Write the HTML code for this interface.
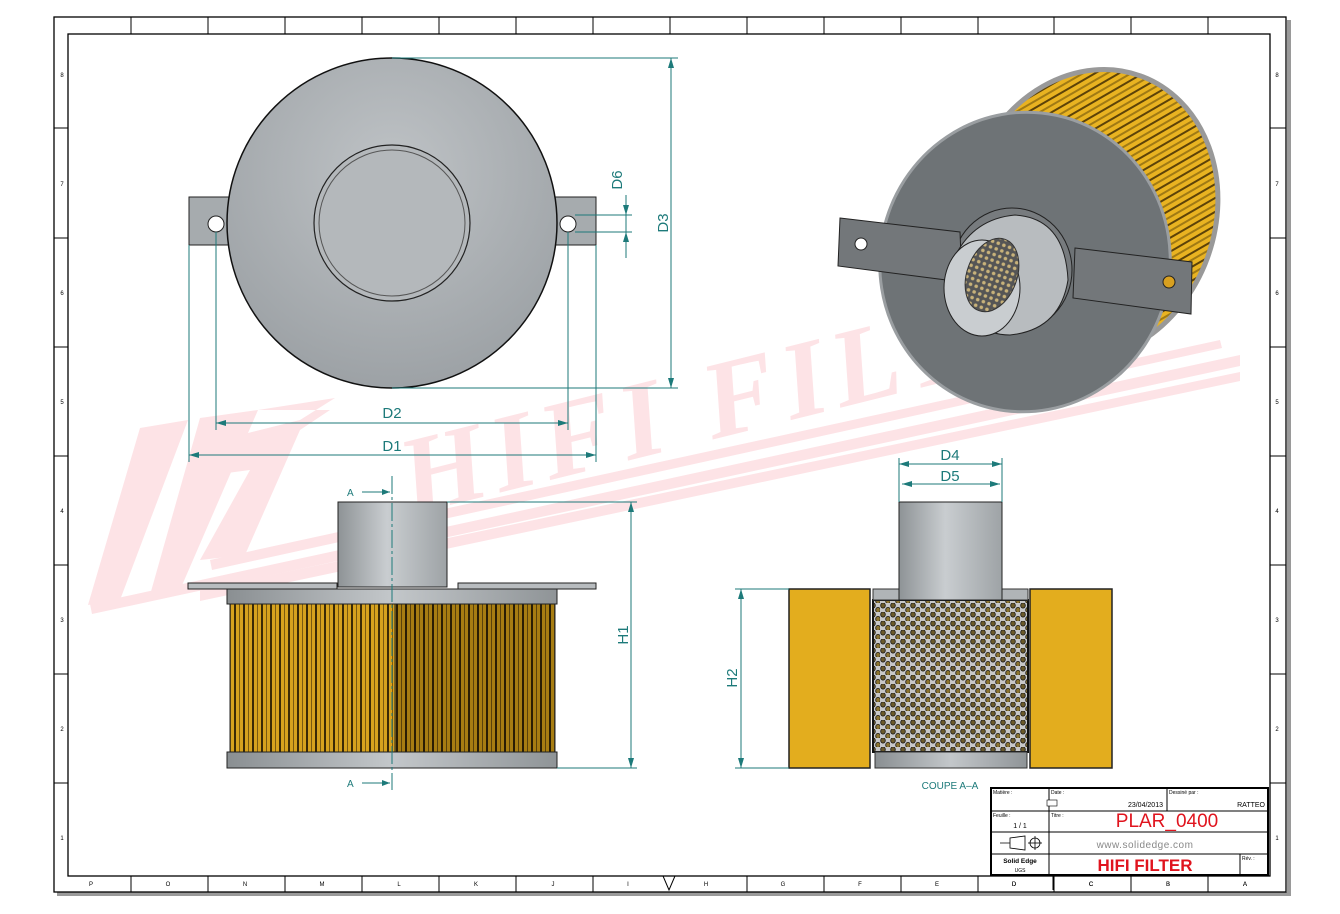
<!DOCTYPE html>
<html><head><meta charset="utf-8"><style>
html,body{margin:0;padding:0;background:#fff;}
svg{display:block;font-family:"Liberation Sans",sans-serif;}
</style></head><body>
<svg width="1340" height="914" viewBox="0 0 1340 914" xmlns="http://www.w3.org/2000/svg">
<defs>
<linearGradient id="tube" x1="0" x2="1">
<stop offset="0" stop-color="#8e9396"/><stop offset="0.45" stop-color="#c9cdd0"/><stop offset="1" stop-color="#9ea3a6"/></linearGradient>
<linearGradient id="cap" x1="0" x2="1">
<stop offset="0" stop-color="#8a8f92"/><stop offset="0.5" stop-color="#c3c7ca"/><stop offset="1" stop-color="#8f9497"/></linearGradient>
<radialGradient id="disc" cx="0.5" cy="0.35" r="0.7">
<stop offset="0" stop-color="#bfc3c6"/><stop offset="1" stop-color="#9a9fa3"/></radialGradient>
<pattern id="pleat" width="9" height="10" patternUnits="userSpaceOnUse">
<rect width="9" height="10" fill="#d6a21e"/><rect x="0" width="2" height="10" fill="#3a2a06"/><rect x="5" width="1" height="10" fill="#7a5a10"/></pattern>
<pattern id="pleat2" width="9" height="10" patternUnits="userSpaceOnUse">
<rect width="9" height="10" fill="#a77d12"/><rect x="0" width="2" height="10" fill="#2a1e04"/><rect x="5" width="1" height="10" fill="#5a420a"/></pattern>
<pattern id="perf" width="10" height="9" patternUnits="userSpaceOnUse">
<rect width="10" height="9" fill="#c8c8c8"/>
<ellipse cx="3" cy="2.5" rx="2.3" ry="2.6" fill="#6b5a2a" stroke="#111" stroke-width="0.8"/>
<ellipse cx="8" cy="7" rx="2.3" ry="2.6" fill="#8a7330" stroke="#111" stroke-width="0.8"/></pattern>
<pattern id="mesh" width="6" height="6" patternUnits="userSpaceOnUse">
<rect width="6" height="6" fill="#555"/><circle cx="3" cy="3" r="1.8" fill="#c8b27a"/></pattern>
<pattern id="rays" width="12" height="12" patternUnits="userSpaceOnUse" patternTransform="rotate(40)">
<rect width="12" height="12" fill="#e9b321"/><rect width="2" height="12" fill="#5c4208"/><rect x="6" width="2" height="12" fill="#a07a14"/></pattern>
</defs>

<rect width="1340" height="914" fill="#fff"/>
<rect x="1287" y="20" width="4" height="876" fill="#9a9a9a"/>
<rect x="57" y="892" width="1234" height="4" fill="#9a9a9a"/>
<rect x="54" y="17" width="1232" height="875" fill="none" stroke="#000" stroke-width="1.3"/>
<rect x="68" y="34" width="1202" height="842" fill="none" stroke="#000" stroke-width="1.3"/>

<g stroke="#000" stroke-width="1">
<line x1="131" y1="876" x2="131" y2="892"/><line x1="208" y1="876" x2="208" y2="892"/><line x1="285" y1="876" x2="285" y2="892"/><line x1="362" y1="876" x2="362" y2="892"/><line x1="439" y1="876" x2="439" y2="892"/><line x1="516" y1="876" x2="516" y2="892"/><line x1="593" y1="876" x2="593" y2="892"/><line x1="747" y1="876" x2="747" y2="892"/><line x1="824" y1="876" x2="824" y2="892"/><line x1="901" y1="876" x2="901" y2="892"/><line x1="978" y1="876" x2="978" y2="892"/><line x1="1054" y1="876" x2="1054" y2="892"/><line x1="1131" y1="876" x2="1131" y2="892"/><line x1="1208" y1="876" x2="1208" y2="892"/>
<line x1="131" y1="17" x2="131" y2="34"/><line x1="208" y1="17" x2="208" y2="34"/><line x1="285" y1="17" x2="285" y2="34"/><line x1="362" y1="17" x2="362" y2="34"/><line x1="439" y1="17" x2="439" y2="34"/><line x1="516" y1="17" x2="516" y2="34"/><line x1="593" y1="17" x2="593" y2="34"/><line x1="670" y1="17" x2="670" y2="34"/><line x1="747" y1="17" x2="747" y2="34"/><line x1="824" y1="17" x2="824" y2="34"/><line x1="901" y1="17" x2="901" y2="34"/><line x1="978" y1="17" x2="978" y2="34"/><line x1="1054" y1="17" x2="1054" y2="34"/><line x1="1131" y1="17" x2="1131" y2="34"/><line x1="1208" y1="17" x2="1208" y2="34"/>
<line x1="54" y1="128" x2="68" y2="128"/><line x1="54" y1="238" x2="68" y2="238"/><line x1="54" y1="347" x2="68" y2="347"/><line x1="54" y1="456" x2="68" y2="456"/><line x1="54" y1="565" x2="68" y2="565"/><line x1="54" y1="674" x2="68" y2="674"/><line x1="54" y1="783" x2="68" y2="783"/>
<line x1="1270" y1="128" x2="1286" y2="128"/><line x1="1270" y1="238" x2="1286" y2="238"/><line x1="1270" y1="347" x2="1286" y2="347"/><line x1="1270" y1="456" x2="1286" y2="456"/><line x1="1270" y1="565" x2="1286" y2="565"/><line x1="1270" y1="674" x2="1286" y2="674"/><line x1="1270" y1="783" x2="1286" y2="783"/>
</g>
<g font-size="6" fill="#000" text-anchor="middle">
<text x="91" y="886">P</text><text x="168" y="886">O</text><text x="245" y="886">N</text><text x="322" y="886">M</text><text x="399" y="886">L</text><text x="476" y="886">K</text><text x="553" y="886">J</text><text x="628" y="886">I</text><text x="706" y="886">H</text><text x="783" y="886">G</text><text x="860" y="886">F</text><text x="937" y="886">E</text><text x="1014" y="886">D</text><text x="1091" y="886">C</text><text x="1168" y="886">B</text><text x="1245" y="886">A</text>
<text x="1277" y="77">8</text><text x="1277" y="186">7</text><text x="1277" y="295">6</text><text x="1277" y="404">5</text><text x="1277" y="513">4</text><text x="1277" y="622">3</text><text x="1277" y="731">2</text><text x="1277" y="840">1</text>
<text x="62" y="77">8</text><text x="62" y="186">7</text><text x="62" y="295">6</text><text x="62" y="404">5</text><text x="62" y="513">4</text><text x="62" y="622">3</text><text x="62" y="731">2</text><text x="62" y="840">1</text>
</g>
<path d="M663 876 L675 876 L669 890 Z" fill="none" stroke="#000"/>

<!-- watermark -->
<g fill="#fde3e6">
<polygon points="140,428 188,420 120,600 88,605"/>
<polygon points="200,418 258,410 180,590 150,595"/>
<polygon points="258,410 335,398 300,420 228,438 212,475 250,470 200,560 245,555 300,430 330,410"/>
<polygon points="90,604 1240,355 1240,366 92,614"/>
<polygon points="200,590 1240,372 1240,381 200,601"/>
<polygon points="210,560 1220,340 1222,348 212,570"/>
</g>
<text x="0" y="0" font-family="Liberation Serif,serif" font-weight="bold" font-style="italic" font-size="110" fill="#fde3e6" transform="translate(410,515) rotate(-14)" letter-spacing="8">HIFI FILTER</text>

<!-- TOP VIEW -->
<rect x="189" y="197" width="50" height="48" fill="#a6abae" stroke="#222"/>
<rect x="546" y="197" width="50" height="48" fill="#a6abae" stroke="#222"/>
<circle cx="216" cy="224" r="8" fill="#fff" stroke="#222"/>
<circle cx="568" cy="224" r="8" fill="#fff" stroke="#222"/>
<circle cx="392" cy="223" r="165" fill="url(#disc)" stroke="#111" stroke-width="1.5"/>
<circle cx="392" cy="223" r="78" fill="#b4b8bb" stroke="#222" stroke-width="1.2"/>
<circle cx="392" cy="223" r="73" fill="none" stroke="#555"/>
<g stroke="#1d7a7a" stroke-width="1" fill="none">
<line x1="392" y1="58" x2="678" y2="58"/><line x1="392" y1="388" x2="678" y2="388"/>
<line x1="671" y1="58" x2="671" y2="388"/>
<line x1="575" y1="215" x2="632" y2="215"/><line x1="575" y1="232" x2="632" y2="232"/>
<line x1="626" y1="195" x2="626" y2="258"/>
<line x1="216" y1="232" x2="216" y2="430"/><line x1="568" y1="232" x2="568" y2="430"/>
<line x1="189" y1="245" x2="189" y2="462"/><line x1="596" y1="245" x2="596" y2="462"/>
<line x1="216" y1="423" x2="568" y2="423"/><line x1="189" y1="455" x2="596" y2="455"/>
</g>
<g fill="#1d7a7a">
<path d="M671 58 l-3 10 h6z"/><path d="M671 388 l-3 -10 h6z"/>
<path d="M626 215 l-3 -10 h6z"/><path d="M626 232 l-3 10 h6z"/>
<path d="M216 423 l10 -3 v6z"/><path d="M568 423 l-10 -3 v6z"/>
<path d="M189 455 l10 -3 v6z"/><path d="M596 455 l-10 -3 v6z"/>
</g>
<g fill="#1d7a7a" font-size="15" text-anchor="middle">
<text x="392" y="418">D2</text><text x="392" y="451">D1</text>
<text transform="translate(668,223) rotate(-90)">D3</text>
<text transform="translate(622,180) rotate(-90)">D6</text>
<text x="950" y="460">D4</text><text x="950" y="481">D5</text>
<text transform="translate(628,635) rotate(-90)">H1</text>
<text transform="translate(737,678) rotate(-90)">H2</text>
</g>

<!-- FRONT VIEW -->
<rect x="338" y="502" width="109" height="85" fill="url(#tube)" stroke="#222"/>
<rect x="188" y="583" width="149" height="6" fill="#b8bcbf" stroke="#222"/>
<rect x="458" y="583" width="138" height="6" fill="#b8bcbf" stroke="#222"/>
<rect x="227" y="589" width="330" height="15" fill="url(#cap)" stroke="#222"/>
<rect x="230" y="604" width="165" height="148" fill="url(#pleat)" stroke="#222"/>
<rect x="395" y="604" width="160" height="148" fill="url(#pleat2)" stroke="#222"/>
<rect x="227" y="752" width="330" height="16" fill="url(#cap)" stroke="#222"/>
<g stroke="#1d7a7a" fill="none">
<line x1="392" y1="476" x2="392" y2="790" stroke-dasharray="18 3 3 3"/>
<line x1="362" y1="492" x2="390" y2="492"/><line x1="362" y1="783" x2="390" y2="783"/>
<line x1="447" y1="502" x2="637" y2="502"/><line x1="557" y1="768" x2="637" y2="768"/>
<line x1="631" y1="502" x2="631" y2="768"/>
</g>
<g fill="#1d7a7a"><path d="M390 492 l-8 -3 v6z"/><path d="M390 783 l-8 -3 v6z"/><path d="M631 502 l-3 10 h6z"/><path d="M631 768 l-3 -10 h6z"/></g>
<g fill="#1d7a7a" font-size="10"><text x="347" y="496">A</text><text x="347" y="787">A</text></g>

<!-- SECTION VIEW -->
<rect x="789" y="589" width="81" height="179" fill="#e3ad1e" stroke="#222" stroke-width="1.5"/>
<rect x="1030" y="589" width="82" height="179" fill="#e3ad1e" stroke="#222" stroke-width="1.5"/>
<rect x="873" y="600" width="155" height="152" fill="url(#perf)" stroke="#111" stroke-width="2"/>
<rect x="873" y="589" width="26" height="11" fill="#b0b4b7" stroke="#333"/>
<rect x="1002" y="589" width="26" height="11" fill="#b0b4b7" stroke="#333"/>
<rect x="875" y="752" width="152" height="16" fill="url(#cap)" stroke="#333"/>
<rect x="899" y="502" width="103" height="98" fill="url(#tube)" stroke="#222"/>
<g stroke="#1d7a7a" fill="none">
<line x1="899" y1="458" x2="899" y2="502"/><line x1="1002" y1="458" x2="1002" y2="502"/>
<line x1="899" y1="464" x2="1002" y2="464"/><line x1="902" y1="484" x2="1000" y2="484"/>
<line x1="735" y1="589" x2="789" y2="589"/><line x1="735" y1="768" x2="789" y2="768"/>
<line x1="741" y1="589" x2="741" y2="768"/>
</g>
<g fill="#1d7a7a"><path d="M899 464 l10 -3 v6z"/><path d="M1002 464 l-10 -3 v6z"/><path d="M902 484 l10 -3 v6z"/><path d="M1000 484 l-10 -3 v6z"/><path d="M741 589 l-3 10 h6z"/><path d="M741 768 l-3 -10 h6z"/></g>
<text x="950" y="789" fill="#1d7a7a" font-size="10" text-anchor="middle">COUPE A–A</text>

<!-- ISO VIEW -->
<ellipse cx="1090" cy="215" rx="125" ry="148" transform="rotate(20 1090 215)" fill="url(#rays)" stroke="#222" stroke-width="1.5"/>
<ellipse cx="1090" cy="215" rx="125" ry="148" transform="rotate(20 1090 215)" fill="none" stroke="#999" stroke-width="5"/>
<ellipse cx="1025" cy="262" rx="145" ry="150" transform="rotate(12 1025 262)" fill="#6e7376" stroke="#111" stroke-width="1.5"/>
<ellipse cx="1025" cy="262" rx="145" ry="150" transform="rotate(12 1025 262)" fill="none" stroke="#9a9ea1" stroke-width="3"/>
<ellipse cx="1012" cy="270" rx="60" ry="62" fill="#777b7e" stroke="#222"/>
<polygon points="840,218 960,232 962,282 838,266" fill="#73777a" stroke="#222"/>
<polygon points="1075,248 1192,262 1191,314 1073,298" fill="#73777a" stroke="#222"/>
<circle cx="861" cy="244" r="6" fill="#fff" stroke="#222"/>
<circle cx="1169" cy="282" r="6" fill="#d8a020" stroke="#222"/>
<path d="M945 285 Q960 220 1015 215 Q1065 218 1068 280 Q1060 330 1010 335 Q970 335 945 285Z" fill="#b8bcbf" stroke="#222"/>
<ellipse cx="982" cy="288" rx="38" ry="48" fill="#c9cdd0" stroke="#222"/>
<ellipse cx="992" cy="275" rx="25" ry="38" fill="url(#mesh)" stroke="#333" transform="rotate(20 992 275)"/>

<!-- TITLE BLOCK -->
<rect x="991" y="788" width="277" height="87" fill="#fff" stroke="#000" stroke-width="2"/>
<g stroke="#000" stroke-width="1">
<line x1="1049" y1="788" x2="1049" y2="875"/><line x1="1167" y1="788" x2="1167" y2="811"/><line x1="1240" y1="854" x2="1240" y2="875"/>
<line x1="991" y1="811" x2="1268" y2="811"/><line x1="991" y1="832" x2="1268" y2="832"/><line x1="991" y1="854" x2="1268" y2="854"/>
<line x1="1053" y1="876" x2="1053" y2="890"/><line x1="1131" y1="876" x2="1131" y2="890"/><line x1="1208" y1="876" x2="1208" y2="890"/>
</g>
<g font-size="5" fill="#000"><text x="993" y="794">Matière :</text><text x="1051" y="794">Date :</text><text x="1169" y="794">Dessiné par :</text><text x="993" y="817">Feuille :</text><text x="1051" y="817">Titre :</text><text x="1242" y="860">Rév. :</text></g>
<rect x="1047" y="800" width="10" height="6" fill="#fff" stroke="#000" stroke-width="0.6"/>
<text x="1163" y="807" font-size="7" text-anchor="end">23/04/2013</text>
<text x="1265" y="807" font-size="7" text-anchor="end">RATTEO</text>
<text x="1020" y="828" font-size="7" text-anchor="middle">1 / 1</text>
<text x="1167" y="827" font-size="19" fill="#e0141e" text-anchor="middle">PLAR_0400</text>
<text x="1145" y="848" font-size="10" fill="#888" text-anchor="middle" letter-spacing="0.5">www.solidedge.com</text>
<text x="1145" y="871" font-size="17" font-weight="bold" fill="#e0141e" text-anchor="middle">HIFI FILTER</text>
<text x="1020" y="863" font-size="6.5" font-weight="bold" text-anchor="middle">Solid Edge</text>
<text x="1020" y="872" font-size="5" text-anchor="middle">UGS</text>
<g stroke="#000" fill="none" stroke-width="0.8"><path d="M1000 843 h10 v-5 l15 -2 v14 l-15 -2 v-5"/><circle cx="1035" cy="843" r="5"/><line x1="1028" y1="843" x2="1042" y2="843"/><line x1="1035" y1="836" x2="1035" y2="850"/></g>
<g font-size="6" text-anchor="middle"><text x="1014" y="886">D</text><text x="1091" y="886">C</text><text x="1168" y="886">B</text><text x="1245" y="886">A</text></g>
</svg>
</body></html>
